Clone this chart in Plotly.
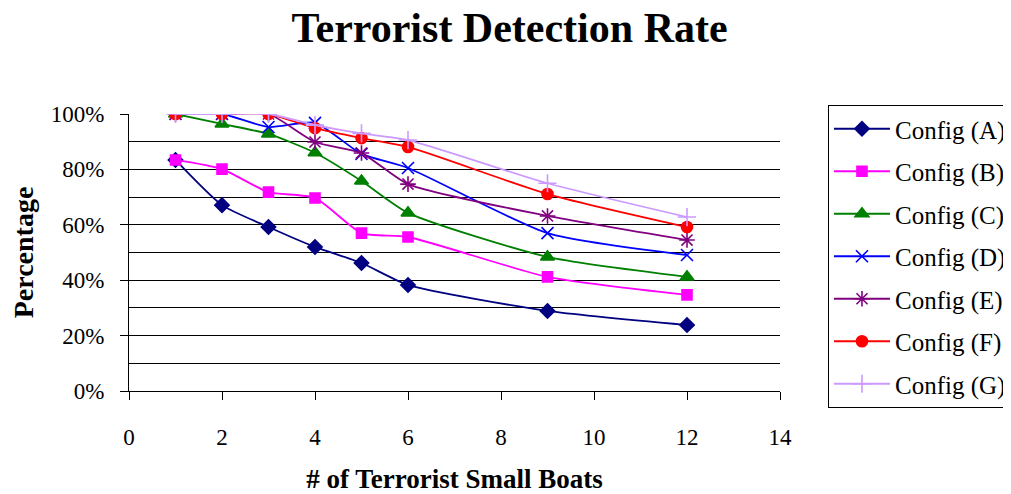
import plotly.graph_objects as go

boats = [1, 2, 3, 4, 5, 6, 9, 12]

config_a = [0.834, 0.671, 0.592, 0.52, 0.462, 0.383, 0.289, 0.238]
config_b = [0.834, 0.801, 0.718, 0.697, 0.57, 0.556, 0.412, 0.347]
config_c = [1.0, 0.964, 0.928, 0.86, 0.758, 0.643, 0.484, 0.412]
config_d = [1.0, 1.0, 0.953, 0.968, 0.856, 0.805, 0.57, 0.491]
config_e = [1.0, 1.0, 1.0, 0.899, 0.859, 0.747, 0.632, 0.545]
config_f = [1.0, 1.0, 1.0, 0.949, 0.913, 0.881, 0.711, 0.592]
config_g = [1.0, 1.0, 1.0, 0.96, 0.93, 0.906, 0.75, 0.628]

series_names = ["Config (A)", "Config (B)", "Config (C)", "Config (D)",
                "Config (E)", "Config (F)", "Config (G)"]

FONT = "Liberation Serif, Times New Roman, serif"

styles = [
    ("#000080", "diamond", 11),
    ("#FF00FF", "square", 10),
    ("#008000", "triangle-up", 12),
    ("#0000FF", "x-thin-open", 12),
    ("#800080", "asterisk-open", 13),
    ("#FF0000", "circle", 11),
    ("#CC99FF", "cross-thin-open", 13),
]

fig = go.Figure()
all_values = [config_a, config_b, config_c, config_d, config_e, config_f, config_g]
for name, values, (color, symbol, size) in zip(series_names, all_values, styles):
    fig.add_trace(go.Scatter(
        x=boats, y=values, name=name, mode="lines+markers",
        legendgroup=name,
        line=dict(color=color, width=1.8, shape="spline", smoothing=0.6),
        marker=dict(symbol=symbol, size=size, color=color,
                    line=dict(color=color, width=1.6)),
    ))

# page body has an 8px margin, so the figure is a bit smaller than the window
fig.update_layout(
    width=1003, height=486,
    paper_bgcolor="white", plot_bgcolor="white",
    margin=dict(l=121, r=231, t=106, b=103, autoexpand=False),
    font=dict(family=FONT, size=23, color="black"),
    title=dict(text="<b>Terrorist Detection Rate</b>", x=0.5, xanchor="center",
               yref="container", y=0.96, yanchor="middle",
               font=dict(size=42, family=FONT)),
    legend=dict(x=1.0737, xanchor="left", yref="container", y=0.8004, yanchor="top",
                bordercolor="black", borderwidth=1, maxheight=330,
                font=dict(size=25, family=FONT), tracegroupgap=7,
                itemwidth=56),
    showlegend=True,
)

fig.update_xaxes(range=[0, 14], dtick=2, tick0=0, showgrid=False,
                 showline=True, linecolor="black", linewidth=1,
                 ticks="outside", ticklen=8, tickcolor="black",
                 ticklabelstandoff=17,
                 zeroline=False, automargin=False,
                 title=dict(text="<b># of Terrorist Small Boats</b>",
                            font=dict(size=27, family=FONT), standoff=20))
fig.update_yaxes(range=[0, 1.0], dtick=0.2, tick0=0, tickformat=".0%",
                 showgrid=True, gridcolor="black", gridwidth=1,
                 minor=dict(dtick=0.1, showgrid=True, gridcolor="black", gridwidth=1),
                 showline=True, linecolor="black", linewidth=1,
                 ticks="outside", ticklen=8, tickcolor="black",
                 ticklabelstandoff=11,
                 zeroline=False, automargin=False,
                 title=dict(text="<b>Percentage</b>",
                            font=dict(size=28, family=FONT), standoff=20))

fig.write_html("out.html")
